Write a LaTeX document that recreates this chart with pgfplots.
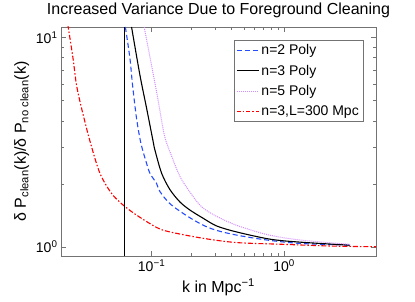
\documentclass[border=0pt]{standalone}
\usepackage{fontspec}
\setmainfont{Liberation Sans}
\usepackage{pgfplots}
\pgfplotsset{compat=1.18}
\definecolor{mviolet}{rgb}{0.82,0.55,1}
\definecolor{mblue}{rgb}{0.15,0.3,1}
\definecolor{mred}{rgb}{1,0,0}
\definecolor{axgray}{gray}{0.45}
\begin{document}
\begin{tikzpicture}
\begin{axis}[
  scale only axis, width=315pt, height=229pt,
  xmode=log, ymode=log,
  xmin=0.0207, xmax=4.95, ymin=0.906, ymax=11.2,
  xtick={0.1,1}, xticklabels={10\textsuperscript{−1},10\textsuperscript{0}},
  ytick={1,10}, yticklabels={10\textsuperscript{0},10\textsuperscript{1}},
  tick align=inside, major tick length=5pt, minor tick length=3pt,
  axis line style={axgray}, every tick/.style={axgray},
  tick label style={font=\fontsize{14}{16}\selectfont, black},
  title={Increased Variance Due to Foreground Cleaning},
  title style={font=\fontsize{16}{19}\selectfont},
  xlabel={k in Mpc\textsuperscript{−1}},
  ylabel={δ P\textsubscript{clean}(k)/δ P\textsubscript{no clean}(k)},
  label style={font=\fontsize{16}{19}\selectfont},
  legend style={at={(0.9587,0.943)}, anchor=north east, draw=axgray,
    font=\fontsize{14}{16}\selectfont, row sep=5pt, inner sep=2pt},
  legend cell align=left,
  clip=true,
]
\addlegendimage{legend image code/.code={\draw[mblue, line width=1.1pt, dash pattern=on 5pt off 3pt] (0pt,0pt) -- (22pt,0pt);}}
\addlegendentry{n=2 Poly}
\addlegendimage{legend image code/.code={\draw[black, line width=1.1pt] (0pt,0pt) -- (22pt,0pt);}}
\addlegendentry{n=3 Poly}
\addlegendimage{legend image code/.code={\draw[mviolet, line width=1pt, densely dotted] (0pt,0pt) -- (22pt,0pt);}}
\addlegendentry{n=5 Poly}
\addlegendimage{legend image code/.code={\draw[color=mred, line width=1.3pt, dash pattern=on 4pt off 2pt on 1.5pt off 2pt] (0pt,0pt) -- (22pt,0pt);}}
\addlegendentry{n=3,L=300 Mpc}
\addplot[draw=mblue, line width=1.1pt, dash pattern=on 5pt off 3pt, smooth, tension=0.5, forget plot] coordinates {
(0.0634,11.2) (0.0686,7.96) (0.0718,5.93) (0.0770,4.11) (0.0830,3.13)
(0.0916,2.51) (0.097,2.25) (0.109,2.01) (0.1155,1.84) (0.1375,1.61)
(0.184,1.41) (0.2456,1.27) (0.31,1.20) (0.438,1.14) (0.74,1.08)
(1.32,1.04) (3.15,1.02)};
\addplot[draw=black, line width=1.1pt, smooth, tension=0.5, forget plot] coordinates {
(0.0706,11.2) (0.0816,6.62) (0.0917,4.59) (0.1028,3.18) (0.106,2.90)
(0.119,2.25) (0.1375,1.88) (0.1637,1.64) (0.195,1.50)
(0.2456,1.37) (0.31,1.26) (0.438,1.18) (0.783,1.09)
(1.32,1.055) (3.15,1.02)};
\addplot[draw=mviolet, line width=1pt, densely dotted, smooth, tension=0.5, forget plot] coordinates {
(0.0879,11.2) (0.109,5.51) (0.1225,3.62) (0.1289,3.18) (0.1375,2.85)
(0.1637,2.17) (0.2006,1.78) (0.24,1.55) (0.31,1.40) (0.438,1.27)
(0.75,1.145) (1.32,1.08) (3.15,1.03)};
\addplot[draw=mred, line width=1.1pt, dash pattern=on 5pt off 2pt on 1.5pt off 2pt, smooth, tension=0.5, forget plot] coordinates {
(0.0233,11.5) (0.0255,7.96) (0.0271,5.93) (0.0296,4.59) (0.0342,3.21)
(0.0407,2.25) (0.0499,1.80) (0.0610,1.585) (0.0770,1.42) (0.109,1.24)
(0.1375,1.18) (0.2456,1.10) (0.438,1.05)
(0.98,1.03) (2.34,1.01) (4.95,1.003)};
\addplot[black, line width=0.8pt, forget plot] coordinates {(0.0628,0.906) (0.0628,11.2)};
\end{axis}
\pgfresetboundingbox
\path ([shift={(-61pt,-46pt)}]current axis.south west) rectangle ([shift={(39pt,27pt)}]current axis.north east);
\end{tikzpicture}
\end{document}
